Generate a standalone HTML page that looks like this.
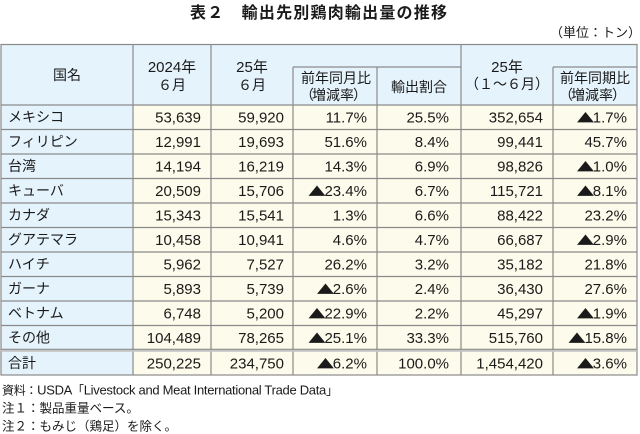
<!DOCTYPE html>
<html><head><meta charset="utf-8"><style>
html,body{margin:0;padding:0;background:#fff;}
svg{display:block;}
text{font-family:"Liberation Sans","Noto Sans CJK JP",sans-serif;fill:#1a1a1a;}
.n{font-size:15px;text-anchor:end;}
.j{font-size:14px;}
.h{font-size:14px;text-anchor:middle;}
.f{font-size:12px;}
.t{font-family:"Noto Sans CJK JP",sans-serif;font-size:15px;text-anchor:end;}
.l{font-size:13px;}
</style></head><body>
<svg width="640" height="434" viewBox="0 0 640 434" xmlns="http://www.w3.org/2000/svg">
<rect width="640" height="434" fill="#fff"/>
<text x="190" y="18" style="font-size:16px;font-weight:bold" textLength="257" lengthAdjust="spacing">表２　輸出先別鶏肉輸出量の推移</text>
<text x="641" y="37" style="font-size:13px;text-anchor:end">（単位：トン）</text>

<!-- backgrounds -->
<rect x="1" y="44.5" width="636" height="60.5" fill="#e5f3fc"/>
<rect x="1" y="105" width="132" height="270" fill="#e5f3fc"/>
<rect x="133" y="105" width="504" height="270" fill="#fdfbeb"/>

<!-- grid -->
<g stroke="#8a8a8a" stroke-width="1.2" fill="none">
<rect x="1" y="44.5" width="636" height="330.5"/>
<line x1="1" y1="105" x2="637" y2="105"/>
<line x1="293" y1="67" x2="461" y2="67"/>
<line x1="553" y1="67" x2="637" y2="67"/>
<line x1="133" y1="44.5" x2="133" y2="375"/>
<line x1="211" y1="44.5" x2="211" y2="375"/>
<line x1="293" y1="67" x2="293" y2="375"/>
<line x1="377" y1="67" x2="377" y2="375"/>
<line x1="461" y1="44.5" x2="461" y2="375"/>
<line x1="553" y1="67" x2="553" y2="375"/>
<line x1="1" y1="129.5" x2="637" y2="129.5"/>
<line x1="1" y1="154" x2="637" y2="154"/>
<line x1="1" y1="178.5" x2="637" y2="178.5"/>
<line x1="1" y1="203" x2="637" y2="203"/>
<line x1="1" y1="227.5" x2="637" y2="227.5"/>
<line x1="1" y1="252" x2="637" y2="252"/>
<line x1="1" y1="276.5" x2="637" y2="276.5"/>
<line x1="1" y1="301" x2="637" y2="301"/>
<line x1="1" y1="325.5" x2="637" y2="325.5"/>
<line x1="1" y1="349.3" x2="637" y2="349.3"/>
</g>
<rect x="1" y="350" width="636" height="1.8" fill="#c4c4c4"/>

<!-- header text -->
<text class="h" x="67" y="80">国名</text>
<text class="h" x="172" y="72" style="font-size:15px">2024年</text>
<text class="h" x="172" y="90">６月</text>
<text class="h" x="252" y="72" style="font-size:15px">25年</text>
<text class="h" x="252" y="90">６月</text>
<text class="h" x="336" y="83">前年同月比</text>
<text x="300" y="100" style="font-size:14px">（<tspan dx="-2">増減率</tspan><tspan dx="-1">）</tspan></text>
<text class="h" x="419" y="92">輸出割合</text>
<text class="h" x="507" y="72" style="font-size:15px">25年</text>
<text class="h" x="507" y="89">（１～６月）</text>
<text class="h" x="595" y="83">前年同期比</text>
<text x="559" y="100" style="font-size:14px">（<tspan dx="-2">増減率</tspan><tspan dx="-1">）</tspan></text>

<!-- rows -->
<g>
<text class="j" x="8" y="122">メキシコ</text>
<text class="j" x="8" y="146.5">フィリピン</text>
<text class="j" x="8" y="171">台湾</text>
<text class="j" x="8" y="195.5">キューバ</text>
<text class="j" x="8" y="220">カナダ</text>
<text class="j" x="8" y="244.5">グアテマラ</text>
<text class="j" x="8" y="269">ハイチ</text>
<text class="j" x="8" y="293.5">ガーナ</text>
<text class="j" x="8" y="318">ベトナム</text>
<text class="j" x="8" y="342.5">その他</text>
<text class="j" x="8" y="368">合計</text>
</g>

<g>
<text class="n" x="201" y="122.5">53,639</text><text class="n" x="284" y="122.5">59,920</text><text class="n" x="367" y="122.5">11.7%</text><text class="n" x="449" y="122.5">25.5%</text><text class="n" x="543" y="122.5">352,654</text><text class="n" x="627" y="122.5">1.7%</text>
<text class="n" x="201" y="147">12,991</text><text class="n" x="284" y="147">19,693</text><text class="n" x="367" y="147">51.6%</text><text class="n" x="449" y="147">8.4%</text><text class="n" x="543" y="147">99,441</text><text class="n" x="627" y="147">45.7%</text>
<text class="n" x="201" y="171.5">14,194</text><text class="n" x="284" y="171.5">16,219</text><text class="n" x="367" y="171.5">14.3%</text><text class="n" x="449" y="171.5">6.9%</text><text class="n" x="543" y="171.5">98,826</text><text class="n" x="627" y="171.5">1.0%</text>
<text class="n" x="201" y="196">20,509</text><text class="n" x="284" y="196">15,706</text><text class="n" x="367" y="196">23.4%</text><text class="n" x="449" y="196">6.7%</text><text class="n" x="543" y="196">115,721</text><text class="n" x="627" y="196">8.1%</text>
<text class="n" x="201" y="220.5">15,343</text><text class="n" x="284" y="220.5">15,541</text><text class="n" x="367" y="220.5">1.3%</text><text class="n" x="449" y="220.5">6.6%</text><text class="n" x="543" y="220.5">88,422</text><text class="n" x="627" y="220.5">23.2%</text>
<text class="n" x="201" y="245">10,458</text><text class="n" x="284" y="245">10,941</text><text class="n" x="367" y="245">4.6%</text><text class="n" x="449" y="245">4.7%</text><text class="n" x="543" y="245">66,687</text><text class="n" x="627" y="245">2.9%</text>
<text class="n" x="201" y="269.5">5,962</text><text class="n" x="284" y="269.5">7,527</text><text class="n" x="367" y="269.5">26.2%</text><text class="n" x="449" y="269.5">3.2%</text><text class="n" x="543" y="269.5">35,182</text><text class="n" x="627" y="269.5">21.8%</text>
<text class="n" x="201" y="294">5,893</text><text class="n" x="284" y="294">5,739</text><text class="n" x="367" y="294">2.6%</text><text class="n" x="449" y="294">2.4%</text><text class="n" x="543" y="294">36,430</text><text class="n" x="627" y="294">27.6%</text>
<text class="n" x="201" y="318.5">6,748</text><text class="n" x="284" y="318.5">5,200</text><text class="n" x="367" y="318.5">22.9%</text><text class="n" x="449" y="318.5">2.2%</text><text class="n" x="543" y="318.5">45,297</text><text class="n" x="627" y="318.5">1.9%</text>
<text class="n" x="201" y="343">104,489</text><text class="n" x="284" y="343">78,265</text><text class="n" x="367" y="343">25.1%</text><text class="n" x="449" y="343">33.3%</text><text class="n" x="543" y="343">515,760</text><text class="n" x="627" y="343">15.8%</text>
<text class="n" x="201" y="368.5">250,225</text><text class="n" x="284" y="368.5">234,750</text><text class="n" x="367" y="368.5">6.2%</text><text class="n" x="449" y="368.5">100.0%</text><text class="n" x="543" y="368.5">1,454,420</text><text class="n" x="627" y="368.5">3.6%</text>
</g>

<!-- triangles -->
<g>
<text class="t" transform="translate(594.5,122.5) scale(1.2,0.85)">▲</text>
<text class="t" transform="translate(594.5,171.5) scale(1.2,0.85)">▲</text>
<text class="t" transform="translate(326,196) scale(1.2,0.85)">▲</text>
<text class="t" transform="translate(594.5,196) scale(1.2,0.85)">▲</text>
<text class="t" transform="translate(594.5,245) scale(1.2,0.85)">▲</text>
<text class="t" transform="translate(334.5,294) scale(1.2,0.85)">▲</text>
<text class="t" transform="translate(326,318.5) scale(1.2,0.85)">▲</text>
<text class="t" transform="translate(594.5,318.5) scale(1.2,0.85)">▲</text>
<text class="t" transform="translate(326,343) scale(1.2,0.85)">▲</text>
<text class="t" transform="translate(586,343) scale(1.2,0.85)">▲</text>
<text class="t" transform="translate(334.5,368.5) scale(1.2,0.85)">▲</text>
<text class="t" transform="translate(594.5,368.5) scale(1.2,0.85)">▲</text>
</g>

<!-- footnotes -->
<text class="f" x="2" y="394.5" textLength="336" lengthAdjust="spacing">資料：<tspan class="l">USDA</tspan>「<tspan class="l">Livestock and Meat International Trade Data</tspan>」</text>
<text class="f" x="2" y="412.5" style="font-size:12.5px">注１：製品重量ベース。</text>
<text class="f" x="2" y="430.5" style="font-size:12.5px">注２：もみじ（鶏足）を除く。</text>
</svg>
</body></html>
